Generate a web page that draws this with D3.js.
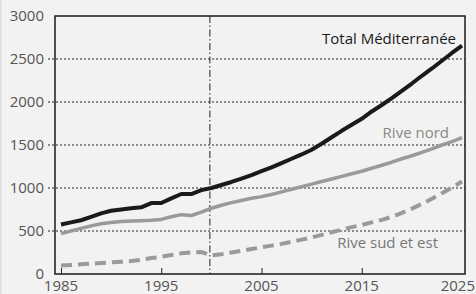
<!DOCTYPE html>
<html>
<head>
<meta charset="utf-8">
<script src="https://cdn.jsdelivr.net/npm/d3@7"></script>
<style>
  body { margin: 0; background: #f2f2f2; }
  svg { display: block; font-family: "Open Sans", sans-serif; }
</style>
</head>
<body>
<svg width="476" height="294"></svg>
<script>
// years and series (population, millions)
const years = d3.range(1985, 2026);
const total = [575, 600, 625, 665, 705, 735, 750, 765, 775, 825, 825, 880, 930, 930, 975, 1000,
  1035, 1070, 1110, 1150, 1195, 1240, 1290, 1340, 1390, 1445, 1515, 1590, 1665, 1735, 1805,
  1890, 1965, 2045, 2130, 2215, 2305, 2390, 2480, 2570, 2655];
const nord = [470, 500, 530, 560, 585, 600, 610, 615, 620, 625, 635, 665, 690, 680, 720, 765,
  800, 830, 855, 880, 900, 925, 955, 985, 1015, 1045, 1075, 1105, 1135, 1165, 1195,
  1230, 1265, 1300, 1340, 1375, 1415, 1455, 1500, 1540, 1585];
const sud = [100, 105, 112, 120, 128, 135, 142, 150, 165, 185, 200, 220, 240, 250, 255, 215,
  230, 250, 270, 290, 310, 330, 350, 375, 400, 425, 455, 485, 515, 545, 570,
  600, 630, 665, 710, 760, 815, 875, 940, 1005, 1075];
const xTicks = [1985, 1995, 2005, 2015, 2025];
const yTicks = [0, 500, 1000, 1500, 2000, 2500, 3000];

const svg = d3.select("svg");
const box = { left: 55, right: 465, top: 16, bottom: 274 };

const x = d3.scaleLinear().domain([1985, 2025]).range([61, 462]);
const y = d3.scaleLinear().domain([0, 3000]).range([box.bottom, box.top]);

// faint left edge
svg.append("rect").attr("x", 0).attr("y", 0).attr("width", 1.5).attr("height", 294).attr("fill", "#dcdcdc");

// dotted gridlines, starting a bit left of the axis
svg.append("g").selectAll("line")
  .data(yTicks.filter(d => d > 0 && d < 3000))
  .join("line")
  .attr("x1", 48).attr("x2", box.right)
  .attr("y1", d => y(d)).attr("y2", d => y(d))
  .attr("stroke", "#222").attr("stroke-width", 1).attr("stroke-dasharray", "2,2");

// y labels
svg.append("g").selectAll("text")
  .data(yTicks)
  .join("text")
  .attr("x", 44).attr("y", d => y(d)).attr("dy", "0.35em")
  .attr("text-anchor", "end").attr("font-size", 15).attr("fill", "#555")
  .text(d => d);

// x axis: inward ticks, labels below
const xAxis = svg.append("g").attr("transform", `translate(0,${box.bottom})`)
  .call(d3.axisTop(x).tickValues(xTicks.slice(0, -1)).tickSize(6).tickFormat(""));
xAxis.select(".domain").remove();
xAxis.selectAll("line").attr("stroke", "#222");

svg.append("g").selectAll("text")
  .data(xTicks)
  .join("text")
  .attr("x", d => d === 2025 ? 475 : x(d))
  .attr("y", 291)
  .attr("text-anchor", d => d === 2025 ? "end" : "middle")
  .attr("font-size", 15).attr("fill", "#555")
  .text(d => d);

// vertical dash-dot line at 2000
svg.append("line")
  .attr("x1", x(2000) - 1.5).attr("x2", x(2000) - 1.5)
  .attr("y1", box.top).attr("y2", box.bottom)
  .attr("stroke", "#222").attr("stroke-width", 1).attr("stroke-dasharray", "7,2.5,1.5,2.5");

// frame
svg.append("rect")
  .attr("x", box.left).attr("y", box.top)
  .attr("width", box.right - box.left).attr("height", box.bottom - box.top)
  .attr("fill", "none").attr("stroke", "#1a1a1a").attr("stroke-width", 1.5);

const line = d3.line().x((d, i) => x(years[i])).y(d => y(d));

svg.append("path").datum(sud).attr("d", line)
  .attr("fill", "none").attr("stroke", "#9a9a9a").attr("stroke-width", 4)
  .attr("stroke-dasharray", "11,6");
svg.append("path").datum(nord).attr("d", line)
  .attr("fill", "none").attr("stroke", "#9a9a9a").attr("stroke-width", 3.5)
  .attr("stroke-linejoin", "round");
svg.append("path").datum(total).attr("d", line)
  .attr("fill", "none").attr("stroke", "#1a1a1a").attr("stroke-width", 4)
  .attr("stroke-linejoin", "round");

// series labels
svg.append("text").attr("x", 456).attr("y", 44).attr("text-anchor", "end")
  .attr("font-size", 15).attr("fill", "#1a1a1a").text("Total Méditerranée");
svg.append("text").attr("x", 449).attr("y", 138).attr("text-anchor", "end")
  .attr("font-size", 15).attr("fill", "#888").text("Rive nord");
svg.append("text").attr("x", 438).attr("y", 248).attr("text-anchor", "end")
  .attr("font-size", 15).attr("fill", "#777").text("Rive sud et est");
</script>
</body>
</html>
